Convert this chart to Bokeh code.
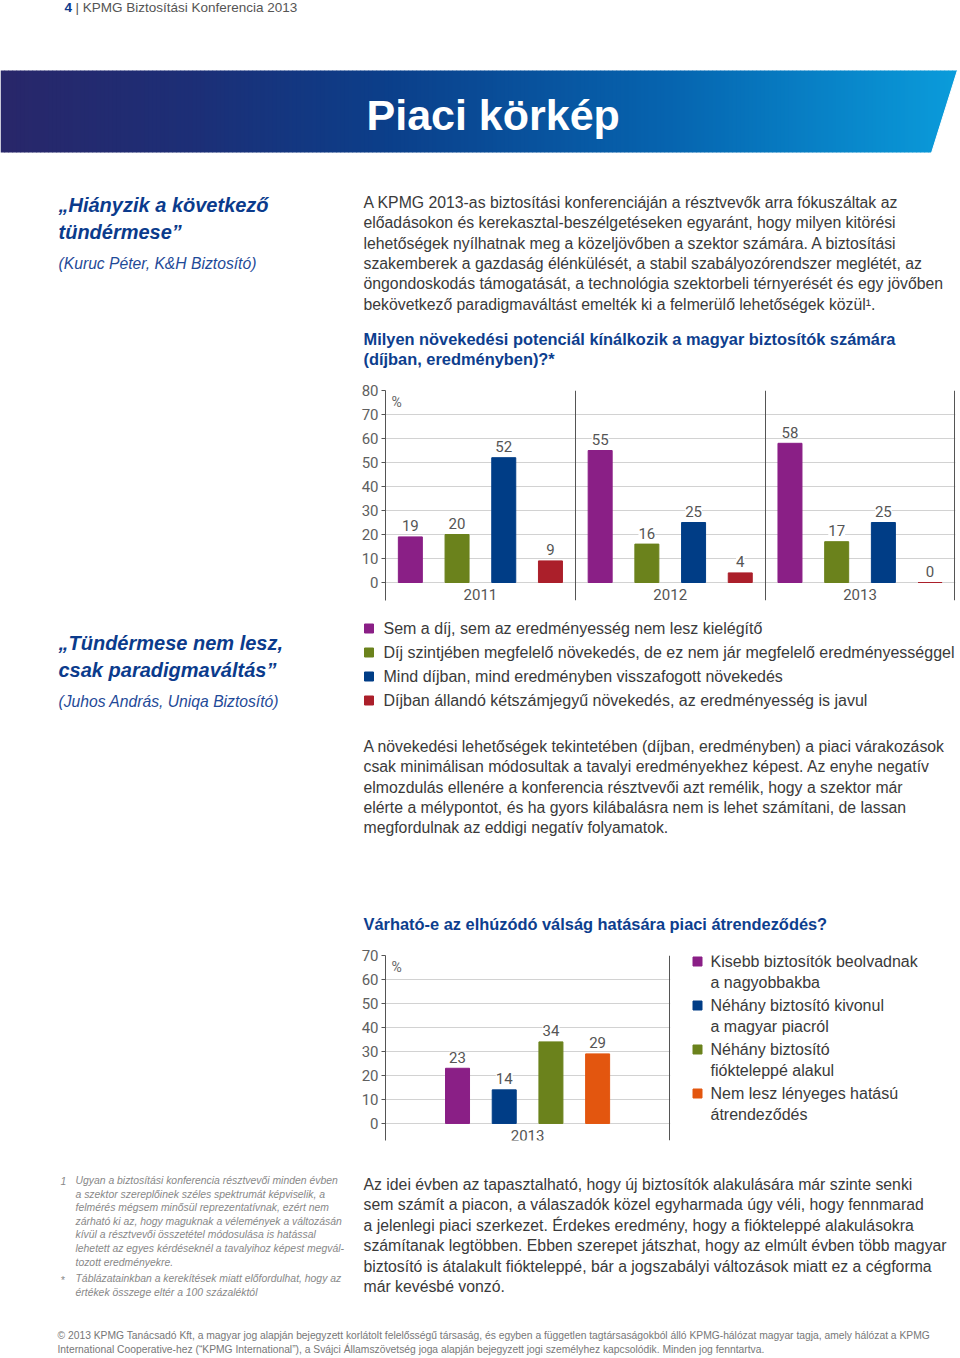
import numpy as np
from bokeh.plotting import figure
from bokeh.models import ColumnDataSource, Range1d, FixedTicker, LabelSet, Label, Grid
from bokeh.layouts import column, row
from bokeh.embed import file_html
from bokeh.resources import INLINE
from bokeh.core.properties import value

# ---------------- data ----------------
years = ["2011", "2012", "2013"]
growth_series = [
    "Sem a díj, sem az eredményesség nem lesz kielégítő",
    "Díj szintjében megfelelő növekedés, de ez nem jár megfelelő eredményességgel",
    "Mind díjban, mind eredményben visszafogott növekedés",
    "Díjban állandó kétszámjegyű növekedés, az eredményesség is javul",
]
growth_colors = ["#8a1f86", "#6b821c", "#003d86", "#ab1f2a"]
growth_2011 = [19, 20, 52, 9]
growth_2012 = [55, 16, 25, 4]
growth_2013 = [58, 17, 25, 0]
growth_ticks = [0, 10, 20, 30, 40, 50, 60, 70, 80]

realign_year = ["2013"]
realign_series = [
    ["Kisebb biztosítók beolvadnak", "a nagyobbakba"],
    ["Néhány biztosító kivonul", "a magyar piacról"],
    ["Néhány biztosító", "fiókteleppé alakul"],
    ["Nem lesz lényeges hatású", "átrendeződés"],
]
realign_colors = ["#8a1f86", "#003d86", "#6b821c", "#e3560f"]
realign_2013 = [23, 14, 34, 29]
realign_ticks = [0, 10, 20, 30, 40, 50, 60, 70]

header_num = "4"
header_text = "| KPMG Biztosítási Konferencia 2013"
banner_title = "Piaci körkép"
quote1 = ["„Hiányzik a következő", "tündérmese”"]
quote1_src = "(Kuruc Péter, K&H Biztosító)"
quote2 = ["„Tündérmese nem lesz,", "csak paradigmaváltás”"]
quote2_src = "(Juhos András, Uniqa Biztosító)"
para1 = [
    "A KPMG 2013-as biztosítási konferenciáján a résztvevők arra fókuszáltak az",
    "előadásokon és kerekasztal-beszélgetéseken egyaránt, hogy milyen kitörési",
    "lehetőségek nyílhatnak meg a közeljövőben a szektor számára. A biztosítási",
    "szakemberek a gazdaság élénkülését, a stabil szabályozórendszer meglétét, az",
    "öngondoskodás támogatását, a technológia szektorbeli térnyerését és egy jövőben",
    "bekövetkező paradigmaváltást emelték  ki a felmerülő lehetőségek közül¹.",
]
title1 = ["Milyen növekedési potenciál kínálkozik a magyar biztosítók számára",
          "(díjban, eredményben)?*"]
para2 = [
    "A növekedési lehetőségek tekintetében (díjban, eredményben) a piaci várakozások",
    "csak minimálisan módosultak a tavalyi eredményekhez képest. Az enyhe negatív",
    "elmozdulás ellenére a konferencia résztvevői azt remélik, hogy a szektor már",
    "elérte a mélypontot, és ha gyors kilábalásra nem is lehet számítani, de lassan",
    "megfordulnak az eddigi negatív folyamatok.",
]
title2 = ["Várható-e az elhúzódó válság hatására piaci átrendeződés?"]
foot1 = [
    "Ugyan a biztosítási konferencia résztvevői minden évben",
    "a szektor szereplőinek széles spektrumát képviselik, a",
    "felmérés mégsem minősül reprezentatívnak, ezért nem",
    "zárható ki az, hogy maguknak a vélemények a változásán",
    "kívül a résztvevői összetétel módosulása is hatással",
    "lehetett az egyes kérdéseknél a tavalyihoz képest megvál-",
    "tozott eredményekre.",
]
foot2 = [
    "Táblázatainkban a kerekítések miatt előfordulhat, hogy az",
    "értékek összege eltér a 100 százaléktól",
]
para3 = [
    "Az idei évben az tapasztalható, hogy új biztosítók alakulására már szinte senki",
    "sem számít a piacon, a válaszadók közel egyharmada úgy véli, hogy fennmarad",
    "a jelenlegi piaci szerkezet. Érdekes eredmény, hogy a fiókteleppé alakulásokra",
    "számítanak legtöbben. Ebben szerepet játszhat, hogy az elmúlt évben több magyar",
    "biztosító is átalakult fiókteleppé, bár a jogszabályi változások miatt ez a cégforma",
    "már kevésbé vonzó.",
]
copyright_lines = [
    "© 2013 KPMG Tanácsadó Kft, a magyar jog alapján bejegyzett korlátolt felelősségű társaság, és egyben a független tagtársaságokból álló KPMG-hálózat magyar tagja, amely hálózat a KPMG",
    "International Cooperative-hez (“KPMG International”), a Svájci Államszövetség joga alapján bejegyzett jogi személyhez kapcsolódik. Minden jog fenntartva.",
]

# ---------------- styles ----------------
BODY = "Liberation Sans"
NUM = "Roboto"
BLUE = "#0b3b8c"
TXT = "#3a3a3a"
PARA = "15.8px"


def canvas(x0, y0, w, h, top=0, bottom=0):
    # frame spans page pixels x0..x0+w, y0..y0+h; borders (if any) lie outside
    p = figure(width=w, height=h + top + bottom, x_range=Range1d(x0, x0 + w),
               y_range=Range1d(y0 + h, y0),
               output_backend="svg", toolbar_location=None, min_border=0,
               min_border_top=top, min_border_bottom=bottom,
               x_axis_location=None, y_axis_location=None)
    p.grid.visible = False
    p.outline_line_color = None
    p.background_fill_color = "white"
    p.border_fill_color = "white"
    return p


def txt(p, x, ys, lines, size, color, font=BODY, style="normal", align="left", baseline="middle"):
    p.text(x=[x] * len(lines), y=ys, text=lines, text_font=value(font), text_font_size=size,
           text_color=color, text_font_style=style, text_align=align, text_baseline=baseline)


def lines_y(y0, step, n):
    return [y0 + step * i for i in range(n)]


# ---------------- block A (top) ----------------
A = canvas(0, 0, 958, 380)
txt(A, 64, [7], [header_num], "13.5px", BLUE, style="bold")
txt(A, 75, [7], [header_text], "13.5px", "#555555")

# banner gradient
stops = np.array([0.0, 0.2, 0.4, 0.7, 1.0])
cols = np.array([[41, 39, 106], [29, 47, 119], [12, 63, 138], [6, 101, 176], [11, 157, 220]])
edges = np.arange(0, 964, 4)
lefts = edges[:-1]
rights = edges[1:] + 0.6
fr = (lefts + 2) / 960.0
rgb = np.stack([np.interp(fr, stops, cols[:, k]) for k in range(3)], axis=1).astype(int)
band_cols = ["#%02x%02x%02x" % tuple(c) for c in rgb]
A.quad(left=lefts, right=rights, top=70, bottom=152, color=band_cols, line_color=None)
A.patch([931, 957, 970, 970], [152.5, 69.5, 69.5, 152.5], color="white", line_color="white")
txt(A, 366, [114], [banner_title], "43px", "white", style="bold")

txt(A, 58, [204, 231], quote1, "20px", BLUE, style="bold italic")
txt(A, 58, [263], [quote1_src], "15.7px", "#1f4a98", style="italic")
txt(A, 363, lines_y(202, 20.3, len(para1)), para1, PARA, TXT)
txt(A, 363, [338, 358], title1, "16.4px", "#0d3e8e", style="bold")

# ---------------- chart helper ----------------

def bar_chart(values_by_group, groups, colors, ticks, ymax, plot_w, group_units, plot_h, ybottom):
    px_per_unit = plot_w / (group_units + 0.003)
    gap = 46.7 / px_per_unit
    bw = 24.0 / px_per_unit
    xs, tops, cs, labs = [], [], [], []
    for g, vals in enumerate(values_by_group):
        n = len(vals)
        for i, v in enumerate(vals):
            xs.append(g + 0.5 + (i - (n - 1) / 2.0) * gap)
            tops.append(v)
            cs.append(colors[i])
            labs.append(str(v))
    src = ColumnDataSource(dict(x=xs, top=tops, color=cs, label=labs))
    gsrc = ColumnDataSource(dict(x=[g + 0.5 for g in range(len(groups))],
                                 y=[-5.2] * len(groups), text=groups))
    p = figure(width=30 + plot_w + 1, height=plot_h + 18,
               x_range=Range1d(0, group_units + 0.003), y_range=Range1d(ybottom, ymax),
               output_backend="svg", toolbar_location=None, x_axis_location=None,
               min_border_left=30, min_border_right=1, min_border_top=10, min_border_bottom=8)
    p.outline_line_color = None
    p.background_fill_color = "white"
    p.border_fill_color = "white"
    p.center = [r for r in p.center if not isinstance(r, Grid)]
    ax = p.yaxis[0]
    ax.ticker = FixedTicker(ticks=ticks)
    ax.minor_tick_line_color = None
    ax.major_tick_in = 0
    ax.major_tick_out = 4
    ax.major_tick_line_color = "#555555"
    ax.axis_line_color = "#555555"
    ax.major_label_standoff = 3
    ax.major_label_text_font = NUM
    ax.major_label_text_font_size = "15px"
    ax.major_label_text_color = "#606060"
    p.add_layout(Grid(dimension=1, ticker=FixedTicker(ticks=ticks), grid_line_color="#d2d2d2",
                      grid_line_width=1), "center")
    p.add_layout(Grid(dimension=0, ticker=FixedTicker(ticks=list(range(1, group_units + 1))),
                      grid_line_color="#555555", grid_line_width=1), "center")
    p.vbar(x="x", top="top", bottom=0, width=bw, source=src, fill_color="color",
           line_color="color", line_width=1)
    p.add_layout(LabelSet(x="x", y="top", text="label", source=src, y_offset=11,
                          text_align="center", text_baseline="middle",
                          text_font=value(NUM), text_font_size="15px", text_color="#555555",
                          background_fill_color="white"))
    p.add_layout(LabelSet(x="x", y="y", text="text", source=gsrc,
                          text_align="center", text_baseline="middle",
                          text_font=value(NUM), text_font_size="15px", text_color="#555555"))
    p.add_layout(Label(x=0, y=ymax, x_offset=6, y_offset=-11, text="%", text_font=NUM,
                       text_font_size="14px", text_color="#666666", text_baseline="middle"))
    return p


# ---------------- block B (chart 1) ----------------
B_left = canvas(0, 390, 355, 210, top=10, bottom=8)
chart1 = bar_chart([growth_2011, growth_2012, growth_2013], years, growth_colors,
                   growth_ticks, 80, 570, 3, 210, -7.5)

# ---------------- block C ----------------
C = canvas(0, 608, 958, 337)
leg_y = lines_y(628, 24, 4)
C.rect(x=[368.5] * 4, y=leg_y, width=9, height=9, color=growth_colors)
txt(C, 383, leg_y, growth_series, "16px", TXT)
txt(C, 58, [642, 669], quote2, "20px", BLUE, style="bold italic")
txt(C, 58, [701], [quote2_src], "15.7px", "#1f4a98", style="italic")
txt(C, 363, lines_y(746, 20.3, len(para2)), para2, PARA, TXT)
txt(C, 363, [923], title2, "16.4px", "#0d3e8e", style="bold")

# ---------------- block D (chart 2) ----------------
D_left = canvas(0, 955, 355, 185, top=10, bottom=8)
chart2 = bar_chart([realign_2013], realign_year, realign_colors, realign_ticks, 70, 285, 1, 185, -7.1)
D_leg = canvas(671, 955, 287, 185, top=10, bottom=8)
ly = lines_y(961, 44, 4)
D_leg.rect(x=[697] * 4, y=ly, width=9, height=9, color=realign_colors)
txt(D_leg, 710, ly, [s[0] for s in realign_series], "16px", TXT)
txt(D_leg, 710, [y + 21 for y in ly], [s[1] for s in realign_series], "16px", TXT)

# ---------------- block E ----------------
E = canvas(0, 1148, 958, 208)
txt(E, 60, [1180], ["1"], "10.4px", "#888888", style="italic")
txt(E, 75, lines_y(1180, 13.6, len(foot1)), foot1, "10.4px", "#888888", style="italic")
txt(E, 60, [1280], ["*"], "10.4px", "#888888", style="italic")
txt(E, 75, [1278, 1292], foot2, "10.4px", "#888888", style="italic")
txt(E, 363, lines_y(1184, 20.4, len(para3)), para3, PARA, TXT)
txt(E, 57, [1335, 1349], copyright_lines, "10.3px", "#777777")

layout = column(A, row(B_left, chart1), C, row(D_left, chart2, D_leg), E)
open("out.html", "w").write(file_html(layout, INLINE))
